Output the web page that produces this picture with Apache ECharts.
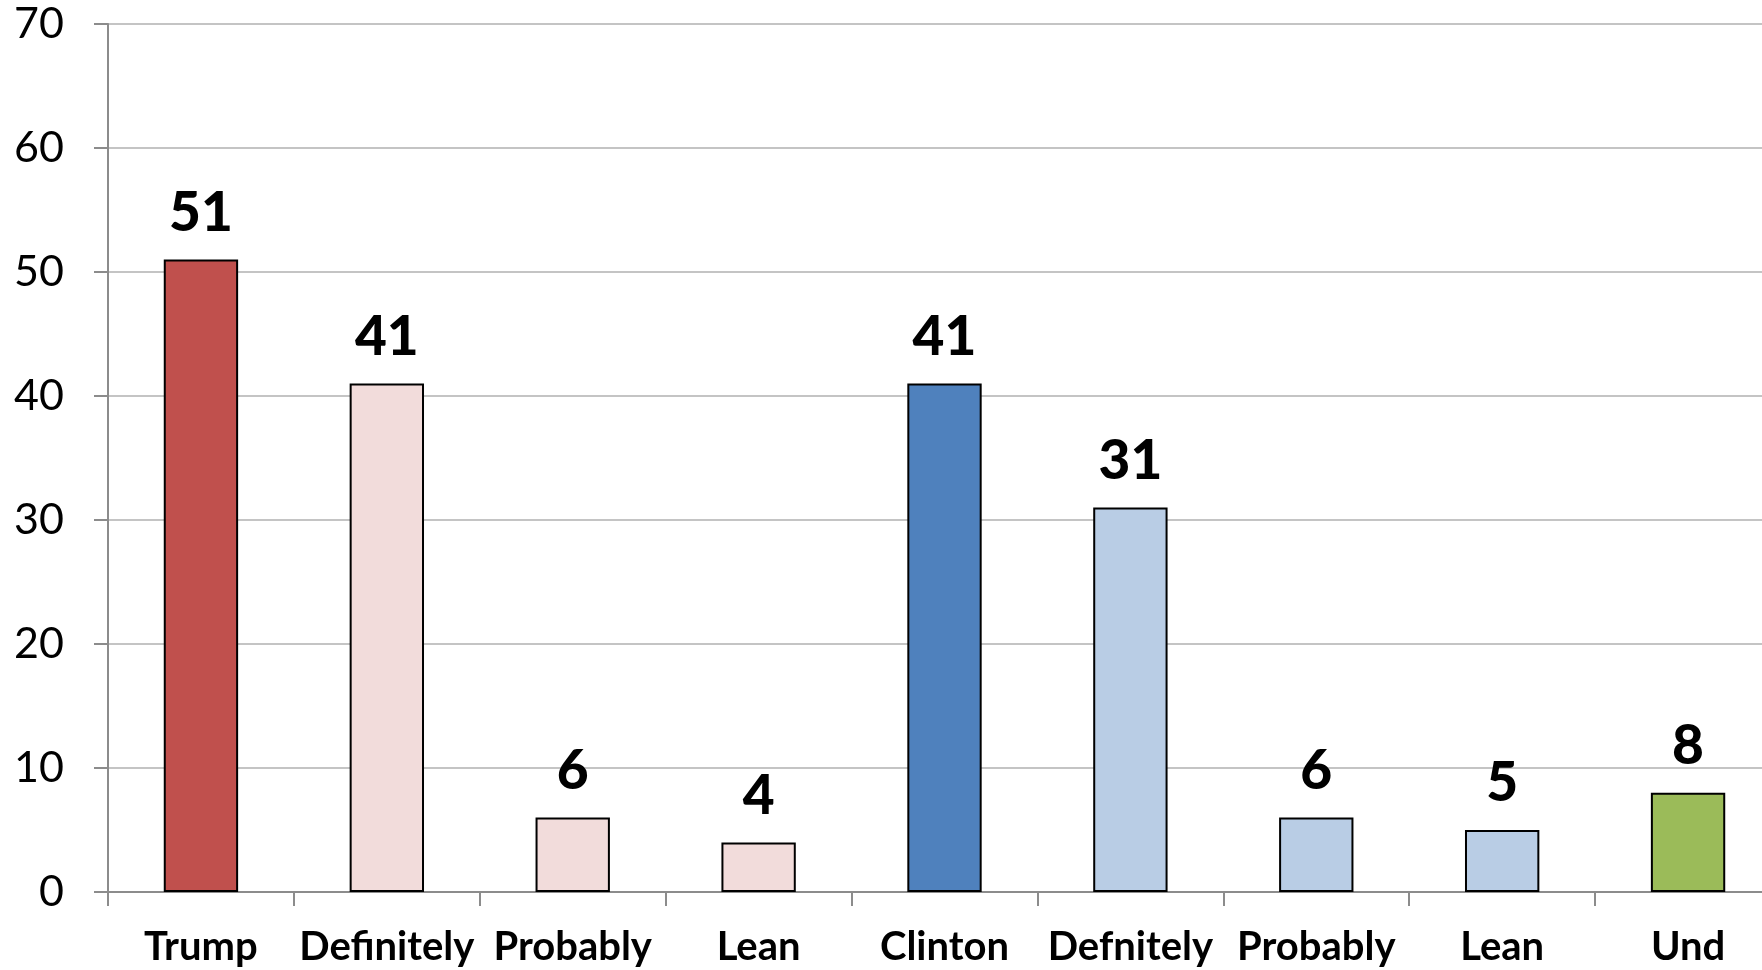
<!DOCTYPE html>
<html>
<head>
<meta charset="utf-8">
<script src="https://cdn.jsdelivr.net/npm/echarts@6/dist/echarts.min.js"></script>
<style>
html,body{margin:0;padding:0;background:#fff;}
#chart{width:1762px;height:970px;}
</style>
</head>
<body>
<div id="chart"></div>
<script>
const categories = ['Trump','Definitely','Probably','Lean','Clinton','Defnitely','Probably','Lean','Und'];
const values = [51,41,6,4,41,31,6,5,8];
const barColors = ['#C0504D','#F2DCDB','#F2DCDB','#F2DCDB','#4F81BD','#B9CDE5','#B9CDE5','#B9CDE5','#9BBB59'];
const yTicks = {min:0, max:70, interval:10};

const FONT = 'Lato';
const chart = echarts.init(document.getElementById('chart'));
chart.setOption({
  animation:false,
  backgroundColor:'#ffffff',
  grid:{left:108, width:1673, top:24, height:868, containLabel:false, outerBoundsMode:'none'},
  xAxis:{
    type:'category',
    data:categories,
    axisLine:{lineStyle:{color:'#8c8c8c', width:2}},
    axisTick:{show:true, length:14, lineStyle:{color:'#8c8c8c', width:2}},
    axisLabel:{interval:0, margin:35, color:'#000', fontFamily:FONT, fontWeight:'bold', fontSize:40}
  },
  yAxis:{
    type:'value',
    min:yTicks.min, max:yTicks.max, interval:yTicks.interval,
    axisLine:{show:true, lineStyle:{color:'#8c8c8c', width:2}},
    axisTick:{show:true, length:14, lineStyle:{color:'#8c8c8c', width:2}},
    splitLine:{lineStyle:{color:'#c4c4c4', width:2}},
    axisLabel:{margin:44, color:'#000', fontFamily:FONT, fontSize:43}
  },
  series:[{
    type:'bar',
    barWidth:'40%',
    data:values.map((v,i)=>({value:v, itemStyle:{color:barColors[i]}})),
    itemStyle:{borderColor:'#000', borderWidth:2},
    label:{show:true, position:'top', distance:19, color:'#000', fontFamily:FONT, fontWeight:'900', fontSize:55}
  }]
});
</script>
</body>
</html>
